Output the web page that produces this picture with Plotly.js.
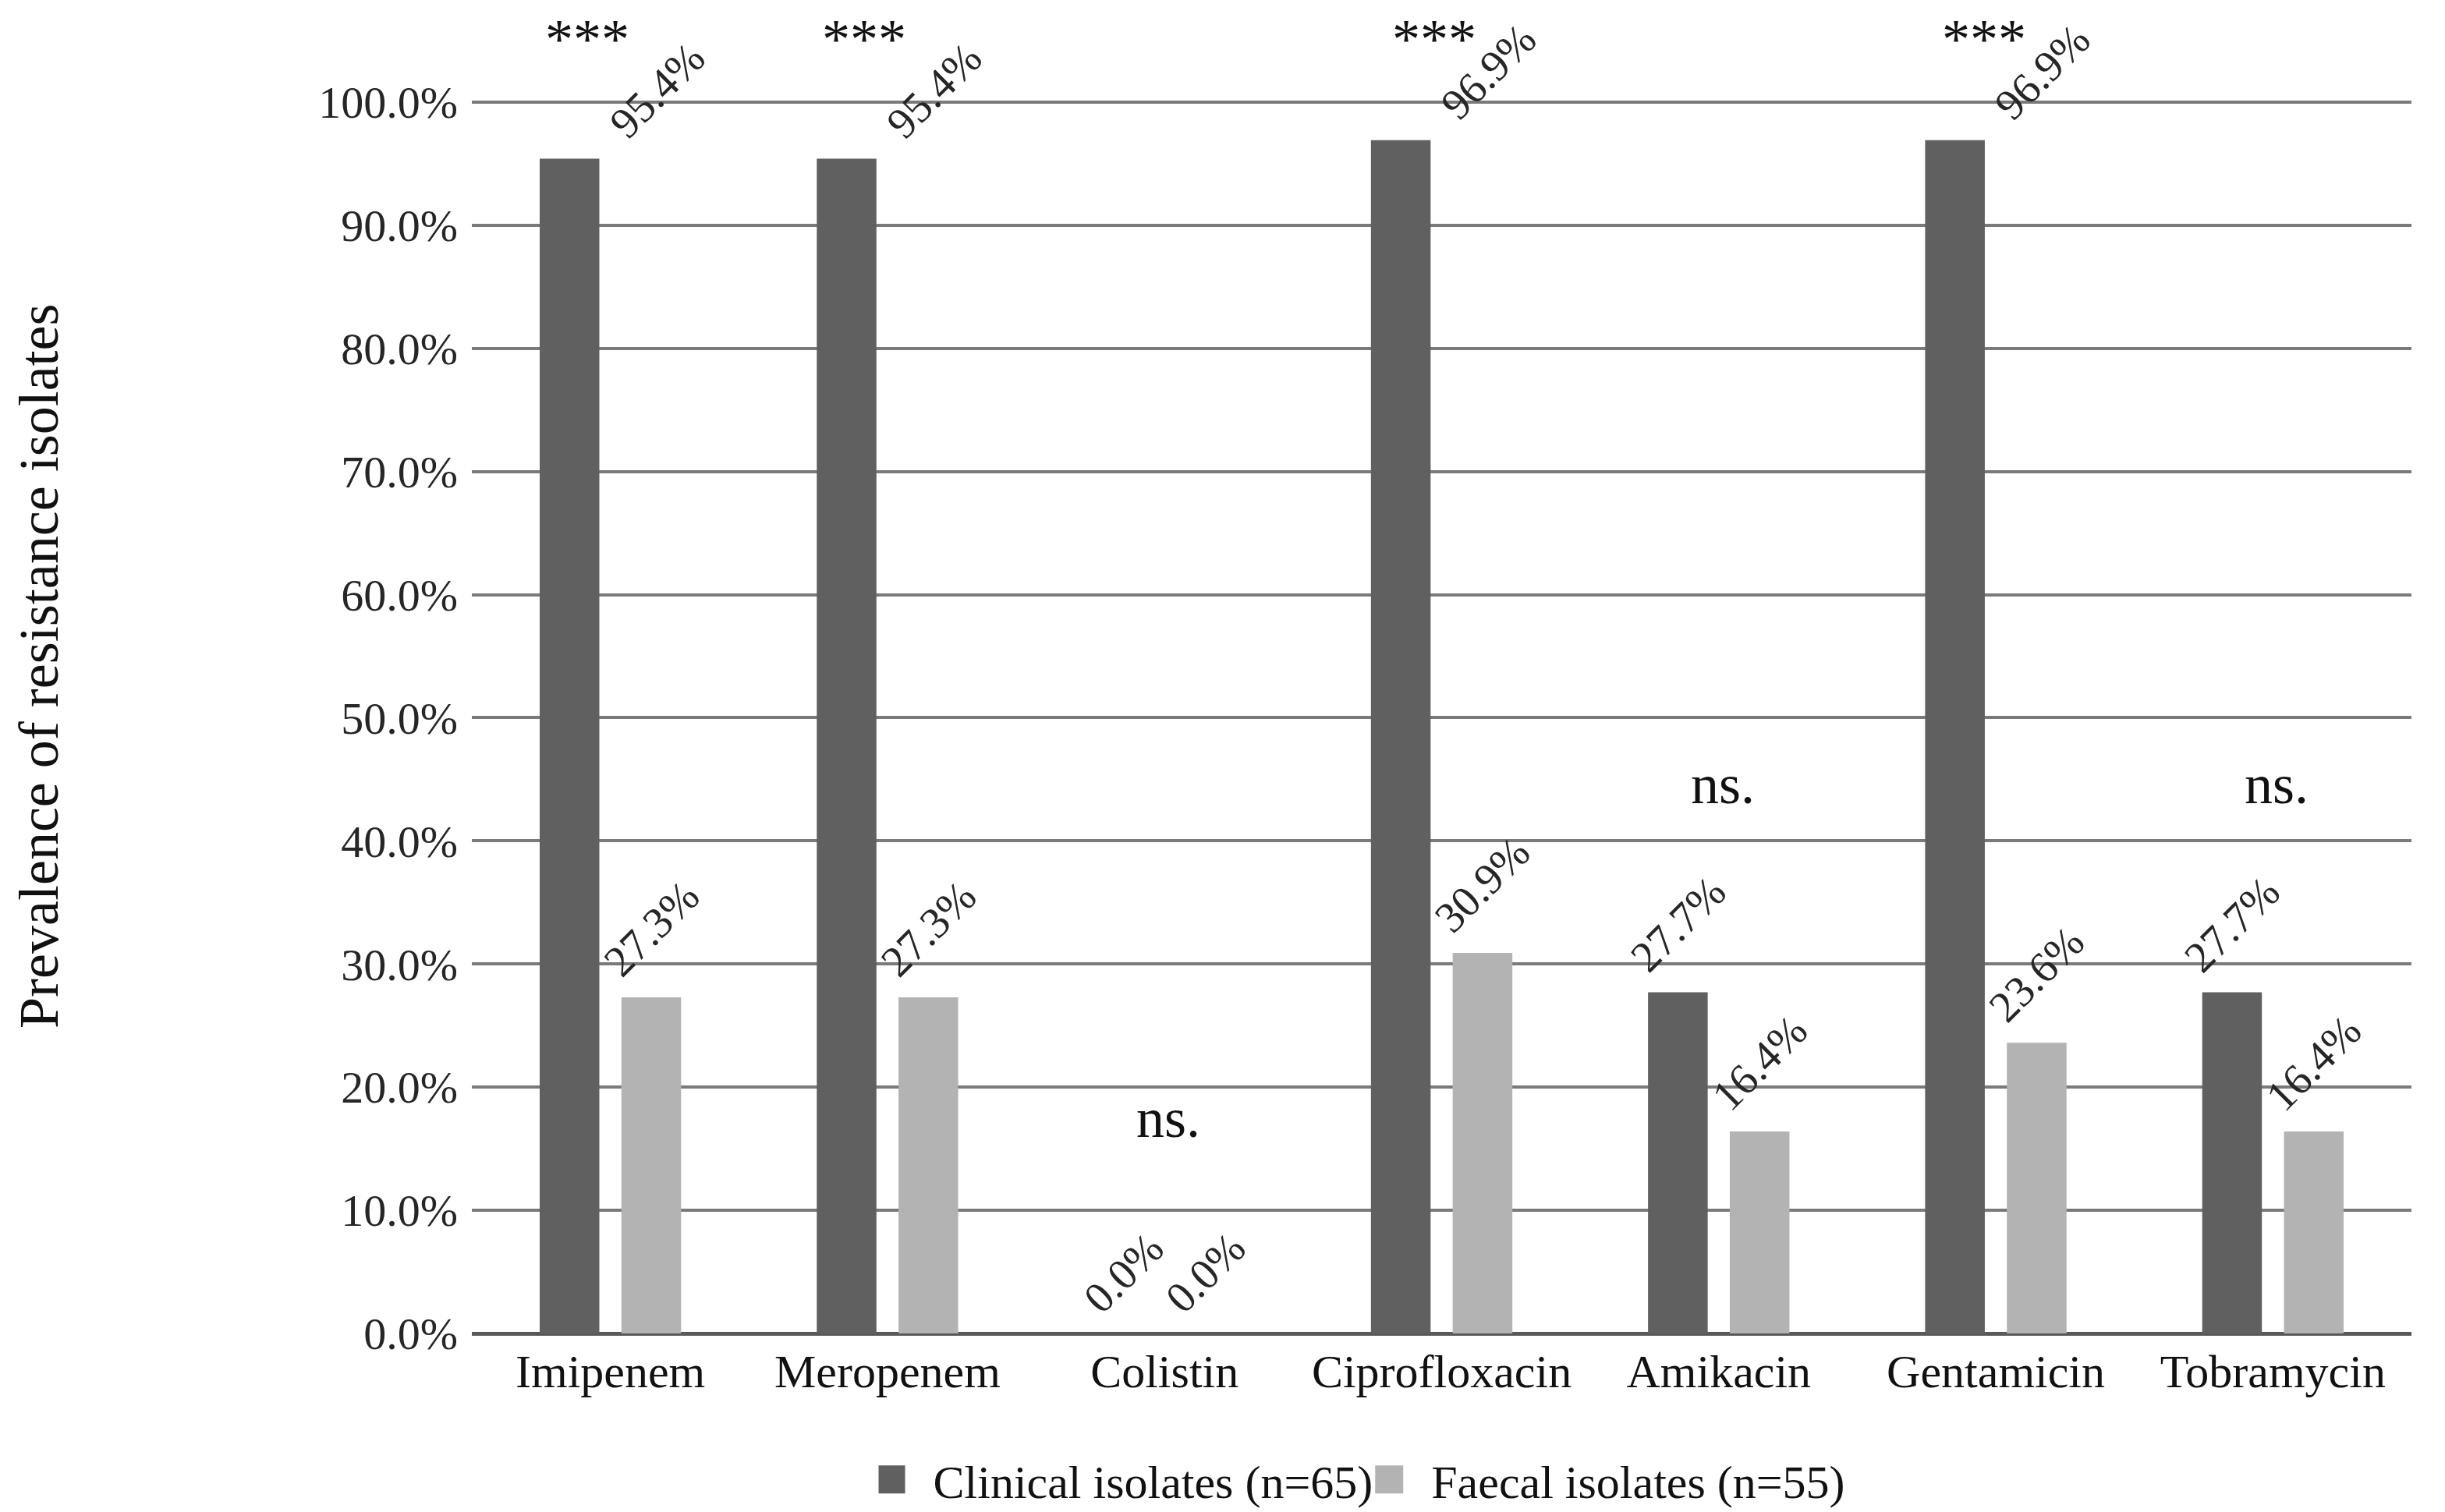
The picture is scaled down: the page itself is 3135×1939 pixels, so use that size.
<!DOCTYPE html>
<html>
<head>
<meta charset="utf-8">
<script src="https://cdn.plot.ly/plotly-3.0.1.min.js"></script>
<style>html,body{margin:0;padding:0;background:#fff;}#chart{width:3135px;height:1939px;}</style>
</head>
<body>
<div id="chart"></div>
<script>
// ---- data ----
const antibiotics = ['Imipenem','Meropenem','Colistin','Ciprofloxacin','Amikacin','Gentamicin','Tobramycin'];
const clinical = [95.4, 95.4, 0.0, 96.9, 27.7, 96.9, 27.7];
const faecal = [27.3, 27.3, 0.0, 30.9, 16.4, 23.6, 16.4];
const significance = ['***','***','ns.','***','ns.','***','ns.'];
const sigLevel = [105.1, 105.1, 17.5, 105.1, 44.6, 105.1, 44.6];
const seriesNames = ['Clinical isolates (n=65)', 'Faecal isolates (n=55)'];
const yTicks = [0,10,20,30,40,50,60,70,80,90,100];
const yTitle = 'Prevalence of resistance isolates';

// ---- style ----
const W = 3135, H = 1939;
const yMax = 100.5;
const M = {l: 605, r: 43, t: 123, b: 229, autoexpand: false};
const bargap = 0.41;
const FONT = 'Liberation Serif, Times New Roman, serif';
const darkCol = '#606060', lightCol = '#b3b3b3';

const plotW = W - M.l - M.r;
const plotH = H - M.t - M.b;
const catW = plotW / antibiotics.length;
const barOffset = catW * (1 - bargap) / 4;
const sigShift = [-30, -30, 5, -10, 5, -15, 5];

const fmt = v => v.toFixed(1) + '%';

const traces = [
  {type:'bar', name: seriesNames[0], x: antibiotics, y: clinical, marker:{color: darkCol}, hoverinfo:'none'},
  {type:'bar', name: seriesNames[1], x: antibiotics, y: faecal, marker:{color: lightCol}, hoverinfo:'none'}
];

const annotations = [];
antibiotics.forEach((a, i) => {
  const topShift = significance[i] === '***' ? 112 : 0;
  annotations.push({x: a, y: clinical[i], xref:'x', yref:'y', text: fmt(clinical[i]), showarrow:false,
    textangle:-45, xanchor:'center', yanchor:'bottom', xshift: -barOffset + topShift, yshift: 12,
    font:{family: FONT, size: 56, color:'#262626'}});
  annotations.push({x: a, y: faecal[i], xref:'x', yref:'y', text: fmt(faecal[i]), showarrow:false,
    textangle:-45, xanchor:'center', yanchor:'bottom', xshift: barOffset, yshift: 12,
    font:{family: FONT, size: 56, color:'#262626'}});
  annotations.push({x: a, y: sigLevel[i] / yMax, xref:'x', yref:'paper', text: significance[i], showarrow:false,
    xanchor:'center', yanchor:'middle', xshift: sigShift[i],
    font:{family: FONT, size: 72, color:'#111111'}});
});
// y-axis title (placed as rotated text left of the axis)
annotations.push({x: (50 - M.l) / plotW, y: (H - M.b - 854) / plotH, xref:'paper', yref:'paper',
  text: yTitle, textangle:-90, showarrow:false, xanchor:'center', yanchor:'middle',
  font:{family: FONT, size: 72, color:'#111111'}});

const layout = {
  width: W, height: H,
  margin: M,
  paper_bgcolor:'#ffffff', plot_bgcolor:'#ffffff',
  barmode:'group', bargap: bargap, bargroupgap: 0.27,
  font:{family: FONT, color:'#111111'},
  xaxis:{type:'category', showgrid:false, zeroline:false, showline:false, ticks:'', automargin:false,
    tickfont:{family: FONT, size: 60, color:'#111111'}, ticklabelstandoff: 8},
  yaxis:{range:[0, yMax], tickvals: yTicks, ticktext: yTicks.map(fmt), showgrid:true, gridcolor:'#7a7a7a', gridwidth:4,
    zeroline:true, zerolinecolor:'#595959', zerolinewidth:5, showline:false, ticks:'', automargin:false,
    tickfont:{family: FONT, size: 58, color:'#262626'}, ticklabelstandoff: 17},
  legend:{orientation:'h', x:0.46, xanchor:'center', y:-0.118, yanchor:'middle',
    font:{family: FONT, size: 60, color:'#111111'}, itemwidth:60, bgcolor:'rgba(0,0,0,0)'},
  showlegend:true,
  annotations: annotations
};

Plotly.newPlot('chart', traces, layout, {displayModeBar:false, staticPlot:true}).then(gd => {
  // enlarge legend swatches to match the reference's square markers
  gd.querySelectorAll('.legend .legendpoints path').forEach(p => {
    p.setAttribute('transform', 'translate(16,0) scale(3)');
  });
});
</script>
</body>
</html>
